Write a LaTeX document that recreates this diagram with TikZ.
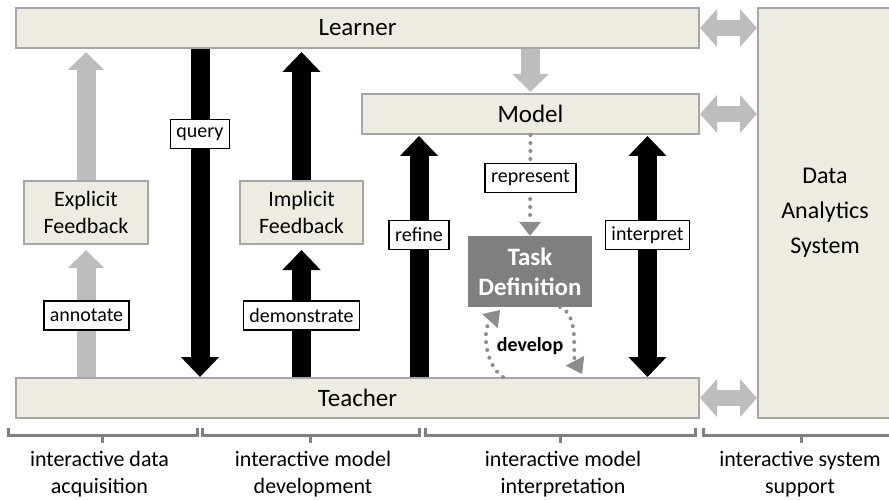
\documentclass[tikz,border=0pt]{standalone}
\usepackage{fontspec}
\setmainfont{Carlito}
\usetikzlibrary{arrows.meta}
\definecolor{boxfill}{HTML}{EEECE1}
\definecolor{boxline}{HTML}{A6A6A6}
\definecolor{grayarrow}{HTML}{BDBDBD}
\definecolor{darkbox}{HTML}{7F7F7F}
\definecolor{dotgray}{HTML}{8C8C8C}
\definecolor{bracegray}{HTML}{808080}
\begin{document}
\begin{tikzpicture}[x=1pt,y=-1pt,
 box/.style={draw=boxline, line width=2pt, fill=boxfill, inner sep=0pt, font=\fontsize{25}{30}\selectfont},
 fbox/.style={box, font=\fontsize{22}{27}\selectfont, align=center},
 lab/.style={draw=black, line width=1.5pt, fill=white, inner xsep=6pt, inner ysep=0pt, minimum height=29pt, font=\fontsize{20}{24}\selectfont},
 blk/.style={line width=19pt, -{Triangle[width=37pt,length=20pt]}},
 blkboth/.style={line width=19pt, {Triangle[width=37pt,length=20pt]}-{Triangle[width=37pt,length=20pt]}},
 gry/.style={grayarrow, line width=19pt, -{Triangle[width=35pt,length=18pt]}},
 hbi/.style={grayarrow, line width=16pt, {Triangle[width=37pt,length=17pt]}-{Triangle[width=37pt,length=17pt]}},
 dotline/.style={dotgray, line width=4pt, line cap=round, dash pattern=on 0pt off 8pt},
 bracket/.style={bracegray, line width=3pt},
 phase/.style={font=\fontsize{22}{27}\selectfont, align=center}
]
\useasboundingbox (0,0) rectangle (889,500);

% main boxes
\node[box, minimum width=683pt, minimum height=40pt] (learner) at (357.5,28) {Learner};
\node[box, minimum width=683pt, minimum height=40pt] (teacher) at (357.5,398) {Teacher};
\node[box, minimum width=337pt, minimum height=40pt] (model) at (530.5,114) {Model};
\node[box, minimum width=134pt, minimum height=410pt, align=center, font=\fontsize{24}{35}\selectfont] (das) at (825,213) {Data\\Analytics\\System};
\node[fbox, minimum width=124pt, minimum height=63pt] (ef) at (86,212.5) {Explicit\\Feedback};
\node[fbox, minimum width=123pt, minimum height=63pt] (if) at (301.5,212.5) {Implicit\\Feedback};
\node[fill=darkbox, text=white, font=\bfseries\fontsize{25}{30}\selectfont, align=center, minimum width=124pt, minimum height=71pt, inner sep=0pt] (task) at (530,271.5) {Task\\Definition};

% x positions of the vertical arrows
\coordinate (qx) at (200,134);
\coordinate (rx) at (419,235);
\coordinate (ix) at (647.5,235);

% gray block arrows
\draw[gry, shorten >=3pt] (ef.north) -- (ef.north |- learner.south);
\draw[gry, shorten >=5pt] (ef.south |- teacher.north) -- (ef.south);
\draw[gry, shorten >=1pt] (learner.south -| model.north) -- (model.north);

% black block arrows
\draw[blk] (learner.south -| qx) -- (teacher.north -| qx);
\draw[blk, shorten >=3pt] (if.north) -- (if.north |- learner.south);
\draw[blk, shorten >=5pt] (if.south |- teacher.north) -- (if.south);
\draw[blk, shorten >=1pt] (teacher.north -| rx) -- (model.south -| rx);
\draw[blkboth, shorten <=1pt] (model.south -| ix) -- (teacher.north -| ix);

% horizontal double arrows to the analytics system
\draw[hbi] (learner.east) -- (learner.east -| das.west);
\draw[hbi] (model.east) -- (model.east -| das.west);
\draw[hbi] (teacher.east) -- (teacher.east -| das.west);

% dotted arrows
\draw[dotline, -{Triangle[width=22pt,length=14pt,line width=0pt]}] (model.south) -- (task.north);
\coordinate (dla) at (503,377);
\coordinate (dlb) at (500,310);
\coordinate (dra) at (560,307);
\coordinate (drb) at (582,374);
\draw[dotline, -{Triangle[width=21pt,length=15pt,line width=0pt]}] (dla) .. controls (485,365) and (482,330) .. (dlb);
\draw[dotline, -{Triangle[width=21pt,length=15pt,line width=0pt]}] (dra) .. controls (580,315) and (572,355) .. (drb);
\node[font=\bfseries\fontsize{20}{24}\selectfont, anchor=base] (dev) at (530,351) {develop};

% labels
\node[lab] (query) at (qx) {query};
\node[lab] (annotate) at (86.5,315.5) {annotate};
\node[lab] (demonstrate) at (301.5,315.5) {demonstrate};
\node[lab] (refine) at (rx) {refine};
\node[lab] (interpret) at (ix) {interpret};
\node[lab] (represent) at (530.5,178) {represent};

% brackets
\draw[bracket] (8,428) -- (8,435) -- (197,435) -- (197,428);
\draw[bracket] (102,435) -- (102,443);
\draw[bracket] (202,428) -- (202,435) -- (419,435) -- (419,428);
\draw[bracket] (310,435) -- (310,443);
\draw[bracket] (425,428) -- (425,435) -- (695,435) -- (695,428);
\draw[bracket] (560,435) -- (560,443);
\draw[bracket] (703,428) -- (703,435) -- (900,435);
\draw[bracket] (801,435) -- (801,443);

% phase labels
\node[phase] (p1) at (99.5,474) {interactive data\\acquisition};
\node[phase] (p2) at (313,474) {interactive model\\development};
\node[phase] (p3) at (563,474) {interactive model\\interpretation};
\node[phase] (p4) at (800,474) {interactive system\\support};
\end{tikzpicture}
\end{document}
